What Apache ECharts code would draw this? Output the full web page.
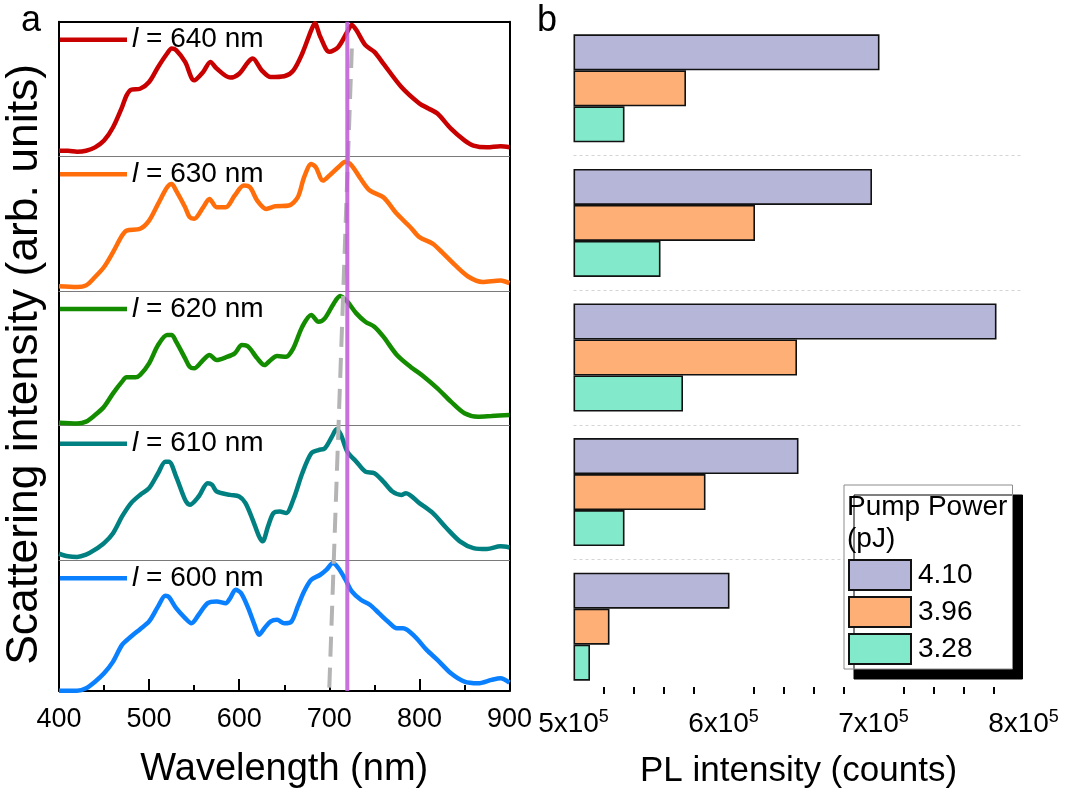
<!DOCTYPE html>
<html><head><meta charset="utf-8">
<script src="https://cdn.jsdelivr.net/npm/echarts@6/dist/echarts.min.js"></script>
<style>html,body{margin:0;padding:0;background:#fff;}#c{width:1065px;height:794px;}</style>
</head><body><div id="c"></div>
<script>
// ---------- Panel a: scattering spectra (values in arb. units, 0-100 per panel) ----------
const wl640 = [400,410,420,430,440,450,460,470,475,480,490,500,510,520,525,530,540,550,560,568,575,590,600,610,615,625,635,650,660,670,680,684,690,700,710,720,725,730,740,750,760,780,800,810,820,835,850,860,875,890,900];
const sc640 = [4.2,4.2,3.5,4.2,6.7,11.7,21.6,36.6,45.3,49.5,50.2,55.2,66.4,76.4,80.1,78.9,70.1,56.5,62.7,70.1,65.2,58.5,61.4,70.1,72.6,63.9,58.9,59.5,63.7,76.4,93.8,98.8,88.8,77.6,81.3,92.5,97.5,93.8,82.6,77.6,68.9,51.5,39.3,35.6,31.8,20.6,11.9,8.0,6.7,7.5,6.7];

const wl630 = [400,420,430,440,450,460,470,475,490,500,510,520,525,530,540,545,550,560,567,575,585,595,605,612,620,630,640,655,665,672,680,685,693,700,710,718,725,735,745,760,775,790,800,815,825,840,855,870,890,900];
const sc630 = [3.5,3.0,4.2,10.4,17.8,28.9,41.2,44.9,46.2,52.3,64.7,77.0,79.5,74.6,62.2,54.8,53.6,62.2,68.4,62.2,62.2,70.9,78.3,77.0,67.2,61.0,62.9,63.5,69.6,84.4,94.3,91.9,82.0,85.7,91.9,96.0,93.1,83.2,74.6,69.6,57.3,47.4,40.0,35.1,28.9,19.0,10.4,6.7,7.9,5.9];

const wl620 = [400,420,430,440,450,460,470,475,485,490,500,510,520,525,530,540,545,550,560,567,575,585,595,603,610,620,628,635,642,652,660,670,680,688,695,705,712,720,730,740,750,760,775,790,805,820,835,850,865,880,900];
const sc620 = [2.2,1.7,3.0,7.9,14.1,24.0,32.7,35.9,35.9,37.6,46.3,59.9,67.3,67.3,62.4,50.0,43.8,42.6,48.8,52.5,48.8,50.7,53.7,59.9,58.7,50.0,45.0,48.8,51.7,51.2,57.4,73.5,82.2,77.2,79.7,90.8,96.3,92.1,83.4,77.2,73.5,66.1,52.5,43.8,36.4,27.7,17.8,9.2,6.7,7.2,7.9];

const wl610 = [400,410,420,430,440,450,460,470,480,490,500,510,518,522,530,540,545,555,565,570,575,590,600,607,615,622,626,632,638,645,652,660,670,680,688,695,703,708,713,720,730,740,750,760,770,780,785,800,815,830,845,860,875,890,900];
const sc610 = [4.9,3.0,2.5,4.2,7.9,12.8,20.2,32.6,42.5,48.6,53.6,64.7,73.3,73.3,62.2,44.9,41.2,47.4,57.3,56.0,51.1,48.6,47.4,42.5,30.1,17.8,14.1,25.2,35.1,36.3,35.1,45.0,64.7,79.5,81.9,83.2,91.9,97.3,93.1,80.7,73.3,65.9,64.7,58.5,51.1,48.6,49.9,42.5,35.1,24.0,14.1,9.1,8.4,10.4,9.6];

const wl600 = [400,420,430,440,450,460,470,480,490,500,510,518,522,530,540,547,555,565,575,585,590,596,602,610,617,622,628,635,642,650,658,665,672,680,690,697,704,710,718,725,735,745,755,765,775,782,795,808,820,835,850,865,880,890,900];
const sc600 = [3.2,3.2,5.0,9.9,16.1,24.8,37.2,43.4,48.9,54.6,65.8,73.7,72.7,64.5,57.1,53.3,59.6,68.2,69.5,68.2,72.0,78.2,75.7,64.5,52.1,44.7,49.6,54.6,55.8,53.3,54.6,65.8,76.9,85.6,89.3,93.1,98.0,94.3,85.6,76.9,70.7,67.0,60.8,54.6,49.6,49.6,43.4,33.5,26.1,16.1,9.9,8.7,11.2,12.4,9.2];

const laserWl = 720;                 // vertical purple line (nm)
const peakTrendWl = [700, 725];      // grey dashed guide (nm)
const peakTrendFrac = [0.005, 0.96]; // fraction of full panel height

const lengthLabels = ['640', '630', '620', '610', '600'];

// ---------- Panel b: PL intensity (counts) ----------
const pumpPowers = ['4.10', '3.96', '3.28'];
const pl410 = [704000, 699000, 782000, 650000, 604000];
const pl396 = [575000, 621000, 649000, 588000, 524000];
const pl328 = [534000, 558000, 573000, 534000, 511000];

// ---------- build ----------
const FONT = 'Liberation Sans, Arial, sans-serif';
const curveColors = ['#C80000', '#FF6E0A', '#138C00', '#008080', '#0A80FF'];
const barColors = ['#B6B6D8', '#FDAF75', '#82EACA'];
const spectraWl = [wl640, wl630, wl620, wl610, wl600];
const spectraVal = [sc640, sc630, sc620, sc610, sc600];

const L = 59, R = 1065 - 509.5, TOP = 21.7, BOT = 695;
const panelH = (BOT - TOP) / 5;

const grids = [], xAxes = [], yAxes = [], series = [], legends = [];
for (let i = 0; i < 5; i++) {
  grids.push({ left: L, right: R, top: TOP + i * panelH, height: panelH });
  xAxes.push({ type: 'value', gridIndex: i, min: 400, max: 900,
    axisLine: { show: i < 4, onZero: false, lineStyle: { color: '#7a7a7a', width: 1 } },
    axisTick: { show: false }, axisLabel: { show: false }, splitLine: { show: false } });
  yAxes.push({ type: 'value', gridIndex: i, min: 0, max: 100, show: false });
  series.push({ type: 'line', name: lengthLabels[i], xAxisIndex: i, yAxisIndex: i,
    data: spectraWl[i].map((w, k) => [w, spectraVal[i][k]]),
    smooth: 0.3, symbol: 'none', lineStyle: { width: 4.5, color: curveColors[i] },
    itemStyle: { color: curveColors[i] }, z: 3 });
  legends.push({ data: [{ name: lengthLabels[i], icon: 'rect' }], left: 60, top: TOP + i * panelH + 4,
    padding: 0, itemWidth: 67, itemHeight: 4.5, selectedMode: false,
    formatter: n => '{i|l} = ' + n + ' nm',
    textStyle: { fontSize: 28, fontFamily: FONT, color: '#000',
      rich: { i: { fontStyle: 'italic', fontSize: 28, fontFamily: FONT, color: '#000' } } } });
}
// overlay grid for frame, axis and guide lines
grids.push({ left: L, right: R, top: TOP, bottom: 794 - BOT });
xAxes.push({ type: 'value', gridIndex: 5, min: 400, max: 900, interval: 100,
  axisLine: { onZero: false, lineStyle: { color: '#000', width: 2 } },
  axisTick: { inside: true, length: 12, lineStyle: { color: '#000', width: 2 } },
  minorTick: { show: true, splitNumber: 2, length: 6, lineStyle: { color: '#000', width: 2 } },
  axisLabel: { fontSize: 27, fontFamily: FONT, color: '#000', margin: 15 },
  splitLine: { show: false },
  name: 'Wavelength (nm)', nameLocation: 'middle', nameGap: 60,
  nameTextStyle: { fontSize: 38, fontFamily: FONT, color: '#000' } });
xAxes.push({ type: 'value', gridIndex: 5, position: 'top', min: 400, max: 900,
  axisLine: { onZero: false, lineStyle: { color: '#000', width: 2 } },
  axisTick: { show: false }, axisLabel: { show: false }, splitLine: { show: false } });
yAxes.push({ type: 'value', gridIndex: 5, min: 0, max: 1,
  axisLine: { show: true, onZero: false, lineStyle: { color: '#000', width: 2 } },
  axisTick: { show: false }, axisLabel: { show: false }, splitLine: { show: false },
  name: 'Scattering intensity (arb. units)', nameLocation: 'middle', nameGap: 12, nameRotate: 90,
  nameTextStyle: { fontSize: 44.5, fontFamily: FONT, color: '#000', padding: [0, 16, 0, 0] } });
yAxes.push({ type: 'value', gridIndex: 5, position: 'right', min: 0, max: 1,
  axisLine: { show: true, onZero: false, lineStyle: { color: '#000', width: 2 } },
  axisTick: { show: false }, axisLabel: { show: false }, splitLine: { show: false } });
series.push({ type: 'line', name: 'trend', xAxisIndex: 5, yAxisIndex: 5, symbol: 'none',
  data: peakTrendWl.map((w, k) => [w, peakTrendFrac[k]]),
  lineStyle: { color: '#b4b4b4', width: 4, type: [20, 11] }, z: 8, silent: true });
series.push({ type: 'line', name: 'laser', xAxisIndex: 5, yAxisIndex: 5, symbol: 'none',
  data: [[laserWl, 0], [laserWl, 1]],
  lineStyle: { color: 'rgba(192, 92, 218, 0.88)', width: 4 }, z: 9, silent: true });

// panel b grid
grids.push({ left: 573.5, right: 1065 - 1023.5, top: 21, bottom: 794 - 695 });
xAxes.push({ type: 'value', gridIndex: 6, min: 500000, max: 800000, interval: 100000, startValue: 500000,
  axisLine: { onZero: false, lineStyle: { color: '#000', width: 2 } },
  axisTick: { inside: true, length: 12, lineStyle: { color: '#000', width: 2 } },
  minorTick: { show: true, splitNumber: 5, length: 7, lineStyle: { color: '#000', width: 2 } },
  axisLabel: { margin: 14, color: '#000', fontFamily: FONT,
    formatter: v => '{m|' + Math.round(v / 100000) + 'x10}{s|5}',
    rich: { m: { fontSize: 28, fontFamily: FONT, color: '#000', lineHeight: 32 },
            s: { fontSize: 18, fontFamily: FONT, color: '#000', verticalAlign: 'top', lineHeight: 18 } } },
  splitLine: { show: false },
  name: 'PL intensity (counts)', nameLocation: 'middle', nameGap: 60,
  nameTextStyle: { fontSize: 35, fontFamily: FONT, color: '#000' } });
yAxes.push({ type: 'category', gridIndex: 6, data: lengthLabels, inverse: true,
  axisLine: { show: false }, axisTick: { show: false }, axisLabel: { show: false },
  splitLine: { show: true, showMinLine: false, showMaxLine: false,
    lineStyle: { color: '#d4d4d4', type: [3, 3], width: 1 } } });
const plSeries = [pl410, pl396, pl328];
for (let j = 0; j < 3; j++) {
  series.push({ type: 'bar', name: pumpPowers[j], xAxisIndex: 7, yAxisIndex: 7, data: plSeries[j],
    barWidth: 36, barGap: '0%',
    itemStyle: { color: barColors[j], borderColor: '#111', borderWidth: 1.6 } });
}
legends.push({ data: pumpPowers, left: 844, top: 485, orient: 'vertical', icon: 'rect',
  itemWidth: 62, itemHeight: 30, itemGap: 5, padding: [74, 40, 4, 4], selectedMode: false,
  backgroundColor: '#fff', borderColor: '#8c8c8c', borderWidth: 1,
  shadowColor: '#000', shadowBlur: 0, shadowOffsetX: 10, shadowOffsetY: 10,
  textStyle: { fontSize: 28, fontFamily: FONT, color: '#000', padding: [0, 0, 0, 2] } });

const option = {
  backgroundColor: '#fff',
  animation: false,
  title: [
    { text: 'a', left: 21, top: 3, padding: 0, textStyle: { fontSize: 36, fontWeight: 'normal', fontFamily: FONT, color: '#000' } },
    { text: 'b', left: 537, top: 3, padding: 0, textStyle: { fontSize: 36, fontWeight: 'normal', fontFamily: FONT, color: '#000' } },
    { text: 'Pump Power\n(pJ)', left: 847, top: 491, padding: 0,
      textStyle: { fontSize: 28, lineHeight: 32, fontWeight: 'normal', fontFamily: FONT, color: '#000' } }
  ],
  legend: legends,
  grid: grids,
  xAxis: xAxes,
  yAxis: yAxes,
  series: series
};
const chart = echarts.init(document.getElementById('c'), null, { renderer: 'canvas' });
chart.setOption(option);
</script></body></html>
